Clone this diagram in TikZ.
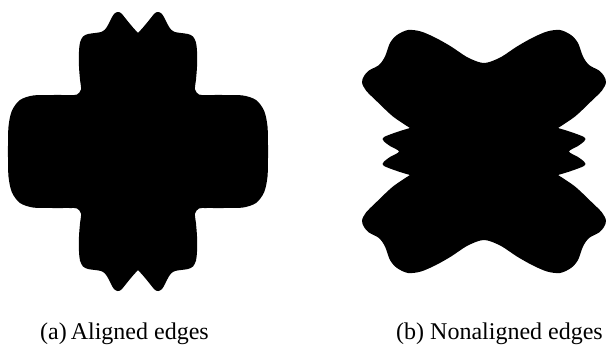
\documentclass[tikz,border=0pt]{standalone}
\usepackage{fontspec}
\setmainfont{Liberation Serif}
\begin{document}
\begin{tikzpicture}[x=1pt,y=-1pt,
  blob/.style={fill=black},
  captext/.style={font=\fontsize{24}{28}\selectfont, anchor=base west, inner sep=0pt},
  curvy/.style={smooth, tension=0.5}]
\useasboundingbox (0,0) rectangle (606,346);
% (a) aligned edges
\fill[blob, shift={(138,151.5)}]
  plot[curvy] coordinates {(0,-118.5) (-5,-124) (-10,-130) (-14,-135) (-17,-138.5) (-20.5,-139.5) (-24,-137.5) (-27,-132.5) (-30,-126.5) (-33,-122) (-37,-119.5) (-43,-118.5) (-50,-117.5) (-55,-115) (-58,-109) (-59,-100) (-59,-85) (-58,-72) (-57,-62) (-61,-57) (-68,-56.5) (-85,-56.5) (-105,-56) (-118,-51.5) (-126,-41) (-129.5,-25) (-130,0) (-129.5,25) (-126,41) (-118,51.5) (-105,56) (-85,56.5) (-68,56.5) (-61,57) (-57,62) (-58,72) (-59,85) (-59,100) (-58,109) (-55,115) (-50,117.5) (-43,118.5) (-37,119.5) (-33,122) (-30,126.5) (-27,132.5) (-24,137.5) (-20.5,139.5) (-17,138.5) (-14,135) (-10,130) (-5,124) (0,118.5)}
  -- plot[curvy] coordinates {(0,118.5) (5,124) (10,130) (14,135) (17,138.5) (20.5,139.5) (24,137.5) (27,132.5) (30,126.5) (33,122) (37,119.5) (43,118.5) (50,117.5) (55,115) (58,109) (59,100) (59,85) (58,72) (57,62) (61,57) (68,56.5) (85,56.5) (105,56) (118,51.5) (126,41) (129.5,25) (130,0) (129.5,-25) (126,-41) (118,-51.5) (105,-56) (85,-56.5) (68,-56.5) (61,-57) (57,-62) (58,-72) (59,-85) (59,-100) (58,-109) (55,-115) (50,-117.5) (43,-118.5) (37,-119.5) (33,-122) (30,-126.5) (27,-132.5) (24,-137.5) (20.5,-139.5) (17,-138.5) (14,-135) (10,-130) (5,-124) (0,-118.5)}
  -- cycle;
% (b) nonaligned edges
\fill[blob, shift={(484,151.5)}]
  plot[curvy] coordinates {(-74,-23.5) (-84,-20.5) (-94,-17) (-100,-14.5) (-101.5,-12.5) (-100,-10) (-94,-5.5) (-85,0) (-94,5.5) (-100,10) (-101.5,12.5) (-100,14.5) (-94,17) (-84,20.5) (-74,23.5)}
  -- plot[curvy] coordinates {(-74,23.5) (-91,35) (-107,50) (-118,61) (-122,69) (-120,75.5) (-115,81) (-105,86.5) (-99,95) (-94,108.5) (-87,116.5) (-76,121.5) (-63,120) (-48,113.5) (-33,105) (-18,95) (-7,90) (0,88.5) (7,90) (18,95) (33,105) (48,113.5) (63,120) (76,121.5) (87,116.5) (94,108.5) (99,95) (105,86.5) (115,81) (120,75.5) (122,69) (118,61) (107,50) (91,35) (74,23.5)}
  -- plot[curvy] coordinates {(74,23.5) (84,20.5) (94,17) (100,14.5) (101.5,12.5) (100,10) (94,5.5) (85,0) (94,-5.5) (100,-10) (101.5,-12.5) (100,-14.5) (94,-17) (84,-20.5) (74,-23.5)}
  -- plot[curvy] coordinates {(74,-23.5) (91,-35) (107,-50) (118,-61) (122,-69) (120,-75.5) (115,-81) (105,-86.5) (99,-95) (94,-108.5) (87,-116.5) (76,-121.5) (63,-120) (48,-113.5) (33,-105) (18,-95) (7,-90) (0,-88.5) (-7,-90) (-18,-95) (-33,-105) (-48,-113.5) (-63,-120) (-76,-121.5) (-87,-116.5) (-94,-108.5) (-99,-95) (-105,-86.5) (-115,-81) (-120,-75.5) (-122,-69) (-118,-61) (-107,-50) (-91,-35) (-74,-23.5)}
  -- cycle;
\node[captext] (capa) at (40,339) {(a)\,Aligned edges};
\node[captext] (capb) at (396,339) {(b) Nonaligned edges};
\end{tikzpicture}
\end{document}
